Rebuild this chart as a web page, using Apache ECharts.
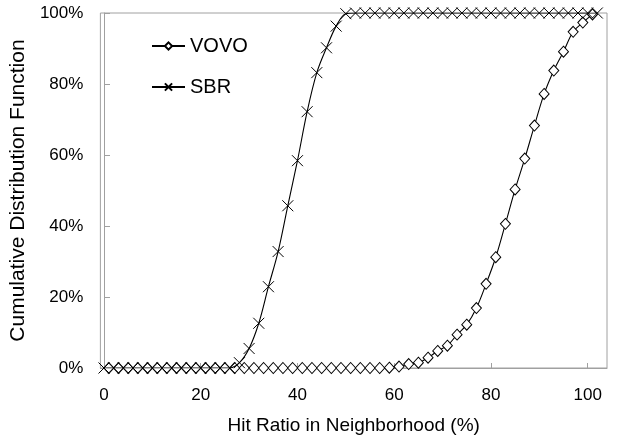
<!DOCTYPE html>
<html>
<head>
<meta charset="utf-8">
<script src="https://cdn.jsdelivr.net/npm/echarts@6/dist/echarts.min.js"></script>
<style>
  html, body { margin: 0; padding: 0; background: #fff; }
  #chart { width: 628px; height: 441px; }
</style>
</head>
<body>
<div id="chart"></div>
<script>
// Hit ratio in neighborhood (%) sampled for each scheme
const vovoX = [1, 3, 5, 7, 9, 11, 13, 15, 17, 19, 21, 23, 25, 27, 29, 31, 33, 35, 37, 39,
  41, 43, 45, 47, 49, 51, 53, 55, 57, 59, 61, 63, 65, 67, 69, 71, 73, 75, 77, 79,
  81, 83, 85, 87, 89, 91, 93, 95, 97, 99, 101];
const vovoY = [0, 0, 0, 0, 0, 0, 0, 0, 0, 0, 0, 0, 0, 0, 0, 0, 0, 0, 0, 0,
  0, 0, 0, 0, 0, 0, 0, 0, 0, 0.1, 0.4, 1.1, 1.5, 2.9, 4.8, 6.3, 9.4, 12.2, 16.9, 23.7,
  31.2, 40.6, 50.3, 59.0, 68.3, 77.2, 83.8, 89.1, 94.7, 97.3, 99.6];

const sbrX = [0, 2, 4, 6, 8, 10, 12, 14, 16, 18, 20, 22, 24, 26, 28, 30, 32, 34, 36, 38,
  40, 42, 44, 46, 48, 50, 52, 54, 56, 58, 60, 62, 64, 66, 68, 70, 72, 74, 76, 78,
  80, 82, 84, 86, 88, 90, 92, 94, 96, 98, 100, 102];
const sbrY = [0, 0, 0, 0, 0, 0, 0, 0, 0, 0, 0, 0, 0, 0, 1.5, 5.5, 12.6, 22.9, 32.8, 45.7,
  58.4, 72.2, 83.2, 90.2, 96.3, 99.8, 100, 100, 100, 100, 100, 100, 100, 100, 100, 100, 100, 100, 100, 100,
  100, 100, 100, 100, 100, 100, 100, 100, 100, 100, 100, 100];

const xTicks = [0, 20, 40, 60, 80, 100];

const pairs = (xs, ys) => xs.map((x, i) => [x, ys[i]]);
const FONT = 'Liberation Sans, Arial, sans-serif';
const GREY = '#a0a0a0';
const CROSS = 'path://M0,0L10,10M10,0L0,10';

const chart = echarts.init(document.getElementById('chart'), null, { renderer: 'canvas' });
chart.setOption({
  animation: false,
  backgroundColor: '#fff',
  textStyle: { fontFamily: FONT, color: '#000' },
  grid: { left: 100, top: 13, right: 21, bottom: 73, show: true, borderColor: GREY, borderWidth: 1 },
  legend: {
    orient: 'vertical',
    left: 146, top: 31,
    itemWidth: 33, itemHeight: 9, itemGap: 21,
    textStyle: { fontFamily: FONT, fontSize: 20, color: '#000' },
    data: ['VOVO', 'SBR']
  },
  xAxis: {
    type: 'value',
    min: -0.75, max: 104,
    name: 'Hit Ratio in Neighborhood (%)',
    nameLocation: 'middle', nameGap: 48,
    nameTextStyle: { fontFamily: FONT, fontSize: 19, color: '#000' },
    axisLine: { show: true, lineStyle: { color: GREY, width: 1 } },
    axisTick: { show: true, inside: true, length: 5, lineStyle: { color: GREY }, customValues: xTicks },
    axisLabel: { fontFamily: FONT, fontSize: 17, color: '#000', margin: 19, customValues: xTicks },
    splitLine: { show: false }
  },
  yAxis: {
    type: 'value',
    min: 0, max: 100, interval: 20,
    name: 'Cumulative Distribution Function',
    nameLocation: 'middle', nameGap: 60,
    nameTextStyle: { fontFamily: FONT, fontSize: 21, color: '#000' },
    axisLine: { show: true, lineStyle: { color: GREY, width: 1 } },
    axisTick: { show: true, inside: true, length: 6, lineStyle: { color: GREY } },
    axisLabel: { fontFamily: FONT, fontSize: 17, color: '#000', margin: 17, formatter: '{value}%' },
    splitLine: { show: false }
  },
  series: [
    {
      name: 'VOVO',
      type: 'line',
      data: pairs(vovoX, vovoY),
      smooth: 0.35,
      symbol: 'diamond',
      symbolSize: [10, 11],
      lineStyle: { color: '#000', width: 1.1 },
      itemStyle: { color: '#fff', borderColor: '#000', borderWidth: 1 },
      z: 3
    },
    {
      name: 'SBR',
      type: 'line',
      data: pairs(sbrX, sbrY),
      smooth: 0.35,
      symbol: CROSS,
      symbolSize: 11,
      lineStyle: { color: '#000', width: 1.1 },
      itemStyle: { color: '#000', borderColor: '#000', borderWidth: 1 },
      z: 4
    }
  ]
});
</script>
</body>
</html>
